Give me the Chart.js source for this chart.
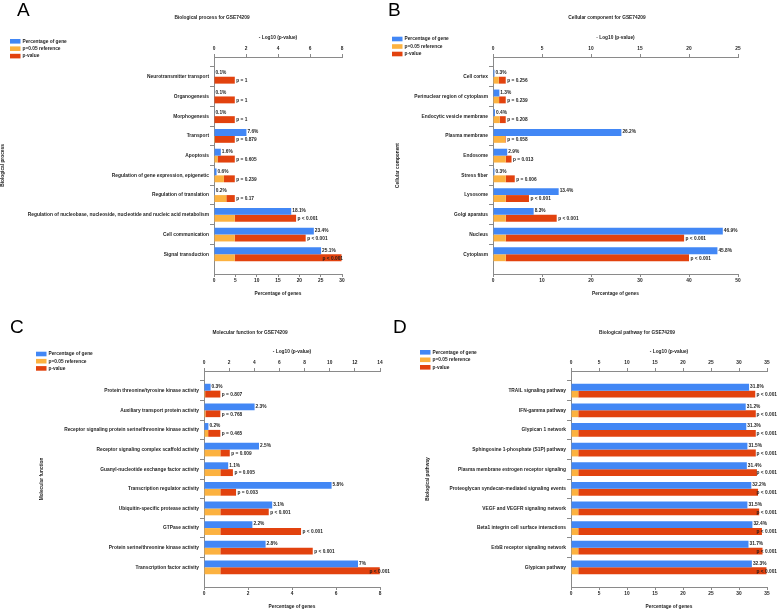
<!DOCTYPE html>
<html>
<head>
<meta charset="utf-8">
<title>GSE74209 enrichment</title>
<script src="https://cdn.jsdelivr.net/npm/chart.js@4.4.1/dist/chart.umd.min.js"></script>
<style>
  body { margin: 0; width: 778px; height: 611px; position: relative; background: #fff; overflow: hidden; }
  canvas { position: absolute; }
</style>
</head>
<body>
<canvas id="chartA" width="346" height="305" style="left:0;top:0"></canvas>
<canvas id="chartB" width="392" height="305" style="left:386px;top:0"></canvas>
<canvas id="chartC" width="390" height="301" style="left:0;top:310px"></canvas>
<canvas id="chartD" width="392" height="301" style="left:386px;top:310px"></canvas>
<script>
// A - Biological process
var bpTerms = ['Neurotransmitter transport', 'Organogenesis', 'Morphogenesis', 'Transport', 'Apoptosis',
  'Regulation of gene expression, epigenetic', 'Regulation of translation',
  'Regulation of nucleobase, nucleoside, nucleotide and nucleic acid metabolism', 'Cell communication', 'Signal transduction'];
var bpPercent = [0.1, 0.1, 0.1, 7.6, 1.6, 0.6, 0.2, 18.1, 23.4, 25.1];
var bpRef = [0, 0, 0, 0.06, 0.22, 0.62, 0.77, 1.3, 1.3, 1.3];
var bpLogP = [1.3, 1.3, 1.3, 1.3, 1.3, 1.3, 1.3, 5.13, 5.73, 7.97];
var bpPText = ['p = 1', 'p = 1', 'p = 1', 'p = 0.879', 'p = 0.605', 'p = 0.239', 'p = 0.17', 'p < 0.001', 'p < 0.001', 'p < 0.001'];

// B - Cellular component
var ccTerms = ['Cell cortex', 'Perinuclear region of cytoplasm', 'Endocytic vesicle membrane', 'Plasma membrane', 'Endosome',
  'Stress fiber', 'Lysosome', 'Golgi aparatus', 'Nucleus', 'Cytoplasm'];
var ccPercent = [0.3, 1.3, 0.4, 26.2, 2.9, 0.3, 13.4, 8.3, 46.9, 45.8];
var ccRef = [0.59, 0.62, 0.68, 1.24, 1.3, 1.3, 1.3, 1.3, 1.3, 1.3];
var ccLogP = [1.3, 1.3, 1.3, 1.3, 1.89, 2.22, 3.67, 6.5, 19.5, 20.0];
var ccPText = ['p = 0.256', 'p = 0.239', 'p = 0.208', 'p = 0.058', 'p = 0.013', 'p = 0.006', 'p < 0.001', 'p < 0.001', 'p < 0.001', 'p < 0.001'];

// C - Molecular function
var mfTerms = ['Protein threonine/tyrosine kinase activity', 'Auxiliary transport protein activity',
  'Receptor signaling protein serine/threonine kinase activity', 'Receptor signaling complex scaffold activity',
  'Guanyl-nucleotide exchange factor activity', 'Transcription regulator activity', 'Ubiquitin-specific protease activity',
  'GTPase activity', 'Protein serine/threonine kinase activity', 'Transcription factor activity'];
var mfPercent = [0.3, 2.3, 0.2, 2.5, 1.1, 5.8, 3.1, 2.2, 2.8, 7];
var mfRef = [0.09, 0.11, 0.33, 1.3, 1.3, 1.3, 1.3, 1.3, 1.3, 1.3];
var mfLogP = [1.3, 1.3, 1.3, 2.05, 2.3, 2.55, 5.15, 7.72, 8.65, 13.98];
var mfPText = ['p = 0.807', 'p = 0.768', 'p = 0.465', 'p = 0.009', 'p = 0.005', 'p = 0.003', 'p < 0.001', 'p < 0.001', 'p < 0.001', 'p < 0.001'];

// D - Biological pathway
var bwTerms = ['TRAIL signaling pathway', 'IFN-gamma pathway', 'Glypican 1 network', 'Sphingosine 1-phosphate (S1P) pathway',
  'Plasma membrane estrogen receptor signaling', 'Proteoglycan syndecan-mediated signaling events',
  'VEGF and VEGFR signaling network', 'Beta1 integrin cell surface interactions', 'ErbB receptor signaling network', 'Glypican pathway'];
var bwPercent = [31.8, 31.2, 31.3, 31.5, 31.4, 32.2, 31.5, 32.4, 31.7, 32.3];
var bwRef = [1.3, 1.3, 1.3, 1.3, 1.3, 1.3, 1.3, 1.3, 1.3, 1.3];
var bwLogP = [32.9, 33.0, 33.0, 33.0, 33.2, 33.4, 33.6, 34.1, 34.2, 34.9];
var bwPText = ['p < 0.001', 'p < 0.001', 'p < 0.001', 'p < 0.001', 'p < 0.001', 'p < 0.001', 'p < 0.001', 'p < 0.001', 'p < 0.001', 'p < 0.001'];

var BLUE = 'rgb(66,135,245)';
var ORANGE = 'rgb(252,178,64)';
var RED = 'rgb(226,66,14)';
var AXIS = '#8a8a8a';
var INK = '#1e1e1e';
var FAMILY = '"Liberation Sans", Arial, sans-serif';

Chart.defaults.font.family = FAMILY;
Chart.defaults.color = INK;

// panel letter, title and legend drawn on the chart canvas
var panelHeader = {
  id: 'panelHeader',
  afterDraw: function (chart, args, o) {
    var ctx = chart.ctx;
    ctx.save();
    ctx.fillStyle = '#000';
    ctx.font = '19px ' + FAMILY;
    ctx.textAlign = 'left';
    ctx.textBaseline = 'alphabetic';
    ctx.fillText(o.letter, o.letterX, o.letterY);

    ctx.fillStyle = INK;
    ctx.font = 'bold 4.8px ' + FAMILY;
    ctx.textAlign = 'center';
    ctx.textBaseline = 'middle';
    ctx.fillText(o.title, o.titleX, o.titleY);

    ctx.textAlign = 'left';
    chart.data.datasets.forEach(function (ds, i) {
      var y = o.legendY + i * o.legendStep;
      ctx.fillStyle = ds.backgroundColor;
      ctx.fillRect(o.legendX, y - 2.3, 10.5, 4.6);
      ctx.fillStyle = INK;
      ctx.fillText(ds.label, o.legendX + 12.5, y);
    });
    ctx.restore();
  }
};

// value labels at the end of the bars
var barLabels = {
  id: 'barLabels',
  afterDatasetsDraw: function (chart, args, o) {
    var ctx = chart.ctx;
    ctx.save();
    ctx.font = 'bold 4.8px ' + FAMILY;
    ctx.fillStyle = INK;
    ctx.textAlign = 'left';
    ctx.textBaseline = 'middle';
    function put(text, bar, dx, dy) {
      var w = ctx.measureText(text).width;
      var x = Math.min(bar.x + dx, o.maxX - w);
      ctx.fillText(text, x, bar.y + dy);
    }
    var pct = chart.data.datasets[0].data;
    chart.getDatasetMeta(0).data.forEach(function (bar, i) {
      if (pct[i] == null) return;
      put(pct[i] + '%', bar, 1, -0.5);
    });
    chart.getDatasetMeta(2).data.forEach(function (bar, i) {
      if (!o.pText[i]) return;
      put(o.pText[i], bar, 1.5, 0.5);
    });
    ctx.restore();
  }
};

function makePanel(id, cfg) {
  // empty slots at both ends leave the gap between the axes and the first/last term
  var labels = [''].concat(cfg.terms, ['']);
  function pad(arr) { return [null].concat(arr, [null]); }
  var last = labels.length - 1;
  var refBars = cfg.ref.map(function (v) { return [0, v]; });
  var pBars = cfg.logP.map(function (v, i) { return [cfg.ref[i], v]; });
  var tickFont = { size: 4.8, weight: 'bold' };
  var titleFont = { size: 4.8, weight: 'bold' };

  return new Chart(document.getElementById(id), {
    type: 'bar',
    data: {
      labels: labels,
      datasets: [
        { label: 'Percentage of gene', data: pad(cfg.pct), backgroundColor: BLUE, xAxisID: 'x', stack: 'pct' },
        { label: 'p=0.05 reference', data: pad(refBars), backgroundColor: ORANGE, xAxisID: 'x2', stack: 'p' },
        { label: 'p-value', data: pad(pBars), backgroundColor: RED, xAxisID: 'x2', stack: 'p' }
      ]
    },
    options: {
      indexAxis: 'y',
      responsive: false,
      animation: false,
      categoryPercentage: 0.7,
      barPercentage: 1.0,
      layout: { padding: cfg.padding },
      plugins: {
        legend: { display: false },
        tooltip: { enabled: false },
        panelHeader: cfg.header,
        barLabels: { pText: pad(cfg.pText), maxX: cfg.maxX }
      },
      scales: {
        y: {
          type: 'category',
          offset: false,
          afterFit: function (s) { s.width = cfg.yWidth; },
          border: { color: AXIS, width: 1 },
          grid: {
            drawOnChartArea: false,
            tickLength: 4,
            tickColor: function (c) { return (c.index === 0 || c.index === last) ? 'rgba(0,0,0,0)' : AXIS; }
          },
          ticks: { autoSkip: false, padding: 1, font: { size: 4.85, weight: 'bold' }, color: INK },
          title: { display: true, text: cfg.yTitle, font: titleFont, padding: 0 }
        },
        x: {
          type: 'linear',
          position: 'bottom',
          stacked: false,
          min: 0,
          max: cfg.pctMax,
          afterFit: function (s) { s.height = 24; },
          border: { color: AXIS, width: 1 },
          grid: { drawOnChartArea: false, tickLength: 3, tickColor: AXIS },
          ticks: { stepSize: cfg.pctStep, padding: 1, font: tickFont, color: INK, maxRotation: 0 },
          title: { display: true, text: 'Percentage of genes', font: titleFont, padding: { top: 0, bottom: 1 } }
        },
        x2: {
          type: 'linear',
          position: 'top',
          stacked: false,
          min: 0,
          max: cfg.logMax,
          afterFit: function (s) { s.height = 23; },
          border: { color: AXIS, width: 1 },
          grid: { drawOnChartArea: false, tickLength: 3, tickColor: AXIS },
          ticks: { stepSize: cfg.logStep, padding: 2, font: tickFont, color: INK, maxRotation: 0 },
          title: { display: true, text: '- Log10 (p-value)', font: titleFont, padding: { top: 1, bottom: 0 } }
        }
      }
    },
    plugins: [panelHeader, barLabels]
  });
}

makePanel('chartA', {
  terms: bpTerms, pct: bpPercent, ref: bpRef, logP: bpLogP, pText: bpPText,
  yTitle: 'Biological process', pctMax: 30, pctStep: 5, logMax: 8, logStep: 2,
  yWidth: 214, padding: { left: 0, right: 4, top: 34, bottom: 7 }, maxX: 343,
  header: { letter: 'A', letterX: 17, letterY: 16, title: 'Biological process for GSE74209', titleX: 212, titleY: 18,
    legendX: 10, legendY: 41.3, legendStep: 7.4 }
});

makePanel('chartB', {
  terms: ccTerms, pct: ccPercent, ref: ccRef, logP: ccLogP, pText: ccPText,
  yTitle: 'Cellular component', pctMax: 50, pctStep: 10, logMax: 25, logStep: 5,
  yWidth: 98, padding: { left: 9, right: 40, top: 34, bottom: 7 }, maxX: 392,
  header: { letter: 'B', letterX: 2, letterY: 16, title: 'Cellular component for GSE74209', titleX: 221, titleY: 18,
    legendX: 6, legendY: 39, legendStep: 7.5 }
});

makePanel('chartC', {
  terms: mfTerms, pct: mfPercent, ref: mfRef, logP: mfLogP, pText: mfPText,
  yTitle: 'Molecular function', pctMax: 8, pctStep: 2, logMax: 14, logStep: 2,
  yWidth: 165, padding: { left: 39, right: 10, top: 38, bottom: 0 }, maxX: 390,
  header: { letter: 'C', letterX: 10, letterY: 23, title: 'Molecular function for GSE74209', titleX: 250, titleY: 23,
    legendX: 36, legendY: 44, legendStep: 7.2 }
});

makePanel('chartD', {
  terms: bwTerms, pct: bwPercent, ref: bwRef, logP: bwLogP, pText: bwPText,
  yTitle: 'Biological pathway', pctMax: 35, pctStep: 5, logMax: 35, logStep: 5,
  yWidth: 146, padding: { left: 39, right: 11, top: 38, bottom: 0 }, maxX: 391,
  header: { letter: 'D', letterX: 7, letterY: 23, title: 'Biological pathway for GSE74209', titleX: 251, titleY: 23,
    legendX: 34, legendY: 42.3, legendStep: 7.5 }
});
</script>
</body>
</html>
